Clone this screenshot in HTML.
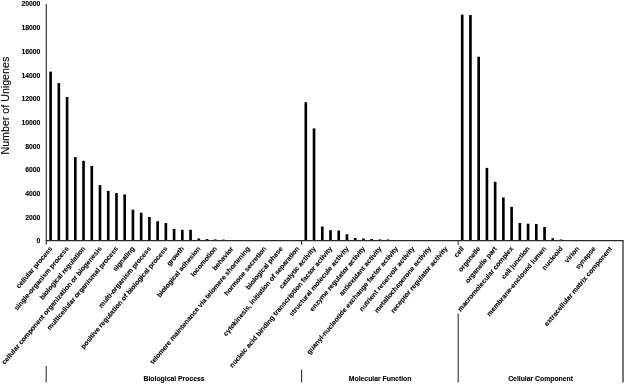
<!DOCTYPE html>
<html><head><meta charset="utf-8"><title>GO classification</title>
<style>
html,body{margin:0;padding:0;background:#fff;}
body{width:625px;height:384px;overflow:hidden;}
svg{display:block;filter:grayscale(1);}
text{font-family:"Liberation Sans",sans-serif;fill:#000;}
.b{font-weight:bold;font-size:6.83px;stroke:#000;stroke-width:0.1px;}
</style></head><body>
<svg width="625" height="384" viewBox="0 0 625 384">
<rect width="625" height="384" fill="#fff"/>
<g fill="#000">
<rect x="49.29" y="71.60" width="2.65" height="169.30"/>
<rect x="57.52" y="83.10" width="2.65" height="157.80"/>
<rect x="65.75" y="97.00" width="2.65" height="143.90"/>
<rect x="73.99" y="157.10" width="2.65" height="83.80"/>
<rect x="82.22" y="160.80" width="2.65" height="80.10"/>
<rect x="90.45" y="165.90" width="2.65" height="75.00"/>
<rect x="98.68" y="185.10" width="2.65" height="55.80"/>
<rect x="106.91" y="190.90" width="2.65" height="50.00"/>
<rect x="115.15" y="193.10" width="2.65" height="47.80"/>
<rect x="123.38" y="194.40" width="2.65" height="46.50"/>
<rect x="131.61" y="209.70" width="2.65" height="31.20"/>
<rect x="139.84" y="212.70" width="2.65" height="28.20"/>
<rect x="148.07" y="217.00" width="2.65" height="23.90"/>
<rect x="156.31" y="221.20" width="2.65" height="19.70"/>
<rect x="164.54" y="223.00" width="2.65" height="17.90"/>
<rect x="172.77" y="229.00" width="2.65" height="11.90"/>
<rect x="181.00" y="229.80" width="2.65" height="11.10"/>
<rect x="189.23" y="229.80" width="2.65" height="11.10"/>
<rect x="197.47" y="238.50" width="2.65" height="2.40"/>
<rect x="205.70" y="239.00" width="2.65" height="1.90"/>
<rect x="213.93" y="239.40" width="2.65" height="1.50"/>
<rect x="222.16" y="239.60" width="2.65" height="1.30"/>
<rect x="304.48" y="102.20" width="2.65" height="138.70"/>
<rect x="312.71" y="128.40" width="2.65" height="112.50"/>
<rect x="320.95" y="226.50" width="2.65" height="14.40"/>
<rect x="329.18" y="230.20" width="2.65" height="10.70"/>
<rect x="337.41" y="230.50" width="2.65" height="10.40"/>
<rect x="345.64" y="234.20" width="2.65" height="6.70"/>
<rect x="353.87" y="238.00" width="2.65" height="2.90"/>
<rect x="362.11" y="238.50" width="2.65" height="2.40"/>
<rect x="370.34" y="239.00" width="2.65" height="1.90"/>
<rect x="378.57" y="239.40" width="2.65" height="1.50"/>
<rect x="386.80" y="239.50" width="2.65" height="1.40"/>
<rect x="460.89" y="14.60" width="2.65" height="226.30"/>
<rect x="469.12" y="15.10" width="2.65" height="225.80"/>
<rect x="477.35" y="56.70" width="2.65" height="184.20"/>
<rect x="485.59" y="167.90" width="2.65" height="73.00"/>
<rect x="493.82" y="181.80" width="2.65" height="59.10"/>
<rect x="502.05" y="197.50" width="2.65" height="43.40"/>
<rect x="510.28" y="206.80" width="2.65" height="34.10"/>
<rect x="518.51" y="223.00" width="2.65" height="17.90"/>
<rect x="526.75" y="223.70" width="2.65" height="17.20"/>
<rect x="534.98" y="224.00" width="2.65" height="16.90"/>
<rect x="543.21" y="227.00" width="2.65" height="13.90"/>
<rect x="551.44" y="238.20" width="2.65" height="2.70"/>
<rect x="559.68" y="239.50" width="2.65" height="1.40"/>
</g>
<g stroke="#333" stroke-width="1.2" fill="none">
<line x1="46.3" y1="4" x2="46.3" y2="244.8"/>
</g>
<g stroke="#2a2a2a" stroke-width="1.3" fill="none">
<line x1="45.6" y1="240.7" x2="623.8" y2="240.7"/>
</g>
<g stroke="#333" stroke-width="1.1" fill="none">
<line x1="301.6" y1="240.6" x2="301.6" y2="244.8"/>
<line x1="458.2" y1="240.6" x2="458.2" y2="244.8"/>
<line x1="623.0" y1="240.6" x2="623.0" y2="382.4" stroke="#4a4a4a" stroke-width="1.5"/>
<line x1="46.2" y1="366" x2="46.2" y2="382.4"/>
<line x1="301.6" y1="369.6" x2="301.6" y2="382.4"/>
<line x1="458.2" y1="313.5" x2="458.2" y2="382.4"/>
</g>
<g class="b" text-anchor="end">
<text x="40.4" y="243.35">0</text>
<text x="40.4" y="219.69">2000</text>
<text x="40.4" y="196.03">4000</text>
<text x="40.4" y="172.37">6000</text>
<text x="40.4" y="148.71">8000</text>
<text x="40.4" y="125.05">10000</text>
<text x="40.4" y="101.39">12000</text>
<text x="40.4" y="77.73">14000</text>
<text x="40.4" y="54.07">16000</text>
<text x="40.4" y="30.41">18000</text>
<text x="40.4" y="6.25">20000</text>
</g>
<text transform="translate(9.45,154.5) rotate(-90)" font-size="10.66" stroke="#000" stroke-width="0.12">Number of Unigenes</text>
<g class="b" text-anchor="end">
<text transform="translate(52.72,248.90) rotate(-50)">cellular process</text>
<text transform="translate(69.18,248.90) rotate(-50)">single-organism process</text>
<text transform="translate(85.64,248.90) rotate(-50)">biological regulation</text>
<text transform="translate(102.11,248.90) rotate(-50)">cellular component organization or biogenesis</text>
<text transform="translate(118.57,248.90) rotate(-50)">multicellular organismal process</text>
<text transform="translate(135.04,248.90) rotate(-50)">signaling</text>
<text transform="translate(151.50,248.90) rotate(-50)">multi-organism process</text>
<text transform="translate(167.96,248.90) rotate(-50)">positive regulation of biological process</text>
<text transform="translate(184.43,248.90) rotate(-50)">growth</text>
<text transform="translate(200.89,248.90) rotate(-50)">biological adhesion</text>
<text transform="translate(217.36,248.90) rotate(-50)">locomotion</text>
<text transform="translate(233.82,248.90) rotate(-50)">behavior</text>
<text transform="translate(250.28,248.90) rotate(-50)">telomere maintenance via telomere shortening</text>
<text transform="translate(266.75,248.90) rotate(-50)">hormone secretion</text>
<text transform="translate(283.21,248.90) rotate(-50)">biological phase</text>
<text transform="translate(299.68,248.90) rotate(-50)">cytokinesis, initiation of separation</text>
<text transform="translate(316.14,248.90) rotate(-50)">catalytic activity</text>
<text transform="translate(332.60,248.90) rotate(-50)">nucleic acid binding transcription factor activity</text>
<text transform="translate(349.07,248.90) rotate(-50)">structural molecule activity</text>
<text transform="translate(365.53,248.90) rotate(-50)">enzyme regulator activity</text>
<text transform="translate(382.00,248.90) rotate(-50)">antioxidant activity</text>
<text transform="translate(398.46,248.90) rotate(-50)">guanyl-nucleotide exchange factor activity</text>
<text transform="translate(414.92,248.90) rotate(-50)">nutrient reservoir activity</text>
<text transform="translate(431.39,248.90) rotate(-50)">metallochaperone activity</text>
<text transform="translate(447.85,248.90) rotate(-50)">receptor regulator activity</text>
<text transform="translate(464.32,248.90) rotate(-50)">cell</text>
<text transform="translate(480.78,248.90) rotate(-50)">organelle</text>
<text transform="translate(497.24,248.90) rotate(-50)">organelle part</text>
<text transform="translate(513.71,248.90) rotate(-50)">macromolecular complex</text>
<text transform="translate(530.17,248.90) rotate(-50)">cell junction</text>
<text transform="translate(546.64,248.90) rotate(-50)">membrane-enclosed lumen</text>
<text transform="translate(563.10,248.90) rotate(-50)">nucleoid</text>
<text transform="translate(579.56,248.90) rotate(-50)">virion</text>
<text transform="translate(596.03,248.90) rotate(-50)">synapse</text>
<text transform="translate(612.49,248.90) rotate(-50)">extracellular matrix component</text>
</g>
<g class="b" text-anchor="middle">
<text x="174.1" y="380.7">Biological Process</text>
<text x="380.1" y="380.7">Molecular Function</text>
<text x="540.6" y="380.7">Cellular Component</text>
</g>
</svg></body></html>
